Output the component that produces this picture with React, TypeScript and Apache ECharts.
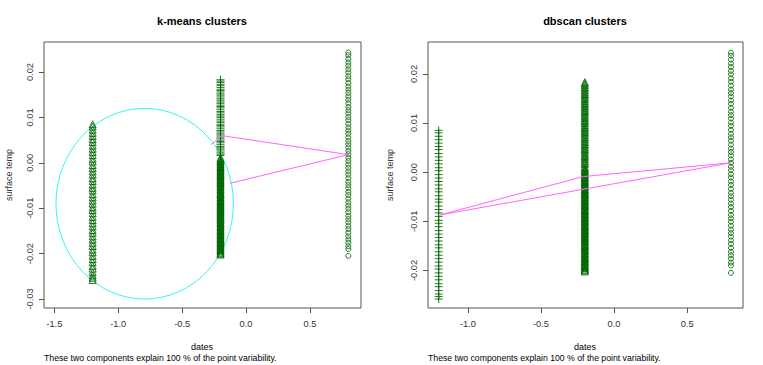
import React, { useEffect, useRef } from "react";
import * as echarts from "echarts";

// x positions of the three date columns
const colX = [-1.2, -0.2, 0.8];

// surface temp values per column
const colA = [
  0.0085, 0.0080, 0.0073, 0.0066, 0.0059, 0.0052, 0.0046, 0.0038, 0.0031, 0.0024,
  0.0017, 0.0009, 0.0003, -0.0005, -0.0012, -0.0019, -0.0026, -0.0034, -0.0040, -0.0048,
  -0.0055, -0.0061, -0.0069, -0.0076, -0.0083, -0.0090, -0.0098, -0.0104, -0.0111, -0.0119,
  -0.0126, -0.0133, -0.0140, -0.0148, -0.0154, -0.0162, -0.0169, -0.0176, -0.0183, -0.0191,
  -0.0197, -0.0205, -0.0212, -0.0219, -0.0227, -0.0233, -0.0241, -0.0248, -0.0253, -0.0258,
];
const colBUpper = [
  0.0183, 0.0177, 0.0170, 0.0162, 0.0156, 0.0149, 0.0141, 0.0134, 0.0127, 0.0121,
  0.0113, 0.0106, 0.0100, 0.0092, 0.0085, 0.0079, 0.0071, 0.0064, 0.0057, 0.0050,
  0.0044, 0.0036, 0.0030, 0.0022, 0.0016,
];
const colBUpperDense = [
  0.0180, 0.0173, 0.0166, 0.0159, 0.0152, 0.0145, 0.0138, 0.0131, 0.0124, 0.0117,
  0.0110, 0.0103, 0.0096, 0.0089, 0.0082, 0.0075, 0.0068, 0.0061, 0.0054, 0.0047,
  0.0040, 0.0033, 0.0026, 0.0019,
];
const colBLower = [
  0.0011, 0.0005, 0.0001, -0.0004, -0.0009, -0.0013, -0.0018, -0.0023, -0.0027, -0.0031,
  -0.0036, -0.0041, -0.0045, -0.0050, -0.0054, -0.0059, -0.0064, -0.0068, -0.0072, -0.0077,
  -0.0082, -0.0086, -0.0091, -0.0095, -0.0100, -0.0105, -0.0109, -0.0113, -0.0118, -0.0123,
  -0.0127, -0.0132, -0.0136, -0.0141, -0.0146, -0.0150, -0.0154, -0.0159, -0.0164, -0.0168,
  -0.0173, -0.0177, -0.0182, -0.0186, -0.0191, -0.0195, -0.0200, -0.0202,
];
const colBLowerDense = [
  0.0008, 0.0003, -0.0002, -0.0007, -0.0011, -0.0016, -0.0020, -0.0025, -0.0029, -0.0034,
  -0.0038, -0.0043, -0.0047, -0.0052, -0.0057, -0.0061, -0.0066, -0.0070, -0.0075, -0.0079,
  -0.0084, -0.0088, -0.0093, -0.0098, -0.0102, -0.0107, -0.0111, -0.0116, -0.0120, -0.0125,
  -0.0130, -0.0134, -0.0139, -0.0143, -0.0148, -0.0152, -0.0157, -0.0161, -0.0166, -0.0171,
  -0.0175, -0.0180, -0.0184, -0.0189, -0.0193, -0.0198,
];
const colC = [
  0.0243, 0.0237, 0.0229, 0.0221, 0.0214, 0.0206, 0.0199, 0.0191, 0.0184, 0.0176,
  0.0168, 0.0161, 0.0154, 0.0146, 0.0139, 0.0131, 0.0123, 0.0116, 0.0109, 0.0101,
  0.0094, 0.0086, 0.0078, 0.0071, 0.0064, 0.0056, 0.0048, 0.0041, 0.0034, 0.0026,
  0.0019, 0.0011, 0.0004, -0.0004, -0.0011, -0.0019, -0.0026, -0.0034, -0.0042, -0.0049,
  -0.0056, -0.0064, -0.0071, -0.0079, -0.0087, -0.0094, -0.0101, -0.0109, -0.0117, -0.0124,
  -0.0131, -0.0139, -0.0146, -0.0154, -0.0162, -0.0169, -0.0176, -0.0184, -0.0190, -0.0205,
];

// tick labels
const xTicksLeft = [-1.5, -1.0, -0.5, 0.0, 0.5];
const yTicksLeft = [0.02, 0.01, 0.0, -0.01, -0.02, -0.03];
const xTicksRight = [-1.0, -0.5, 0.0, 0.5];
const yTicksRight = [0.02, 0.01, 0.0, -0.01, -0.02];

// k-means cluster ellipse: centre x, centre y, radius x, radius y
const kmEllipse = [-0.793, -0.009, 0.694, 0.021];
// segments joining the clusters
const kmLinks = [
  [[-0.273, 0.004], [-0.19, 0.006]],
  [[-0.19, 0.006], [0.8, 0.0018]],
  [[0.8, 0.0018], [-0.125, -0.0045]],
];
const dbLinks = [
  [[-1.19, -0.0087], [-0.21, -0.0009]],
  [[-0.21, -0.0009], [0.8, 0.0019]],
  [[0.8, 0.0019], [-1.19, -0.0087]],
];

const titles = ["k-means clusters", "dbscan clusters"];
const xName = "dates";
const yName = "surface temp";
const subText = "These two components explain 100 % of the point variability.";

const GREEN = "#006400";
const FONT = "Liberation Sans, Arial, sans-serif";
const PLUS = "path://M0,5L10,5M5,0L5,10";

const pts = (x: number, ys: number[]) => ys.map((y) => [x, y]);

export default function App() {
  const ref = useRef<HTMLDivElement>(null);
  useEffect(() => {
    if (!ref.current) return;
    const chart = echarts.init(ref.current, null, { renderer: "svg" });

    const scatter = (gi: number, data: number[][], symbol: string, size: number) => ({
      type: "scatter",
      xAxisIndex: gi,
      yAxisIndex: gi,
      data,
      symbol,
      symbolSize: size,
      silent: true,
      itemStyle: { color: "rgba(0,0,0,0)", borderColor: GREEN, borderWidth: 1, opacity: 0.85 },
    });
    const link = (gi: number, seg: number[][], color: string) => ({
      type: "line",
      xAxisIndex: gi,
      yAxisIndex: gi,
      data: seg,
      symbol: "none",
      silent: true,
      lineStyle: { color, width: 1 },
    });

    const xAxisCommon = (min: number, max: number, gi: number, ticks: number[]) => ({
      type: "value",
      gridIndex: gi,
      min,
      max,
      axisLine: { show: false, onZero: false },
      splitLine: { show: false },
      axisTick: { show: true, customValues: ticks, length: 5, lineStyle: { color: "#555" } },
      axisLabel: {
        customValues: ticks,
        formatter: (v: number) => v.toFixed(1),
        fontSize: 9.3,
        color: "#333",
        margin: 11,
        fontFamily: FONT,
      },
    });
    const yAxisCommon = (min: number, max: number, gi: number, ticks: number[]) => ({
      type: "value",
      gridIndex: gi,
      min,
      max,
      axisLine: { show: false, onZero: false },
      splitLine: { show: false },
      axisTick: { show: true, customValues: ticks, length: 5, lineStyle: { color: "#555" } },
      axisLabel: {
        customValues: ticks,
        formatter: (v: number) => v.toFixed(2),
        fontSize: 9.3,
        color: "#333",
        margin: 10,
        rotate: 90,
        fontFamily: FONT,
      },
    });

    const textEl = (text: string, x: number, y: number, opts: any = {}) => ({
      type: "text",
      x,
      y,
      rotation: opts.rotation || 0,
      style: {
        text,
        fill: opts.fill || "#000",
        font: `${opts.bold ? "bold " : ""}${opts.size || 9}px ${FONT}`,
        textAlign: opts.align || "center",
        textVerticalAlign: "middle",
      },
      silent: true,
    });

    chart.setOption({
      animation: false,
      backgroundColor: "#fff",
      grid: [
        { left: 44, top: 42, width: 317, height: 266, show: true, borderColor: "#555", borderWidth: 1, backgroundColor: "transparent" },
        { left: 428, top: 42, width: 315, height: 266, show: true, borderColor: "#555", borderWidth: 1, backgroundColor: "transparent" },
      ],
      xAxis: [
        xAxisCommon(-1.5806, 0.899, 0, xTicksLeft),
        xAxisCommon(-1.2732, 0.8825, 1, xTicksRight),
      ],
      yAxis: [
        yAxisCommon(-0.03198, 0.02661, 0, yTicksLeft),
        yAxisCommon(-0.02764, 0.02648, 1, yTicksRight),
      ],
      series: [
        // k-means
        scatter(0, pts(colX[0], colA), "triangle", 7),
        scatter(0, pts(colX[1], colBLower), "triangle", 7),
        scatter(0, pts(colX[1], colBLowerDense), "triangle", 7),
        scatter(0, pts(colX[1], colBUpper), PLUS, 8),
        scatter(0, pts(colX[1], colBUpperDense), PLUS, 8),
        scatter(0, pts(colX[2], colC), "circle", 5),
        {
          type: "custom",
          xAxisIndex: 0,
          yAxisIndex: 0,
          data: [kmEllipse],
          silent: true,
          renderItem: (params: any, api: any) => {
            const c = api.coord([api.value(0), api.value(1)]);
            const s = api.size([api.value(2), api.value(3)]);
            const rx = s[0];
            const ry = s[1];
            const d = `M${c[0] - rx},${c[1]} A${rx},${ry} 0 1 0 ${c[0] + rx},${c[1]} A${rx},${ry} 0 1 0 ${c[0] - rx},${c[1]} Z`;
            return {
              type: "path",
              shape: { pathData: d },
              style: { fill: "none", stroke: "#33f5f5", lineWidth: 1 },
            };
          },
        },
        ...kmLinks.map((seg) => link(0, seg, "#ff66ff")),
        // dbscan
        scatter(1, pts(colX[0], colA), PLUS, 8),
        scatter(1, pts(colX[1], colBUpper), "triangle", 7),
        scatter(1, pts(colX[1], colBUpperDense), "triangle", 7),
        scatter(1, pts(colX[1], colBLower), "triangle", 7),
        scatter(1, pts(colX[1], colBLowerDense), "triangle", 7),
        scatter(1, pts(colX[2], colC), "circle", 5),
        ...dbLinks.map((seg) => link(1, seg, "#ff66ff")),
      ],
      graphic: [
        textEl(titles[0], 202, 21, { bold: true, size: 11 }),
        textEl(titles[1], 585, 21, { bold: true, size: 11 }),
        textEl(xName, 202, 346.5),
        textEl(xName, 585, 346.5),
        textEl(subText, 44, 357.5, { align: "left", size: 8.7 }),
        textEl(subText, 428, 357.5, { align: "left", size: 8.7 }),
        textEl(yName, 9, 175, { rotation: Math.PI / 2, fill: "#333" }),
        textEl(yName, 390, 175, { rotation: Math.PI / 2, fill: "#333" }),
      ],
    });
    return () => chart.dispose();
  }, []);
  return (
    <div
      ref={ref}
      style={{ position: "fixed", left: 0, top: 0, width: 763, height: 365 }}
    />
  );
}
